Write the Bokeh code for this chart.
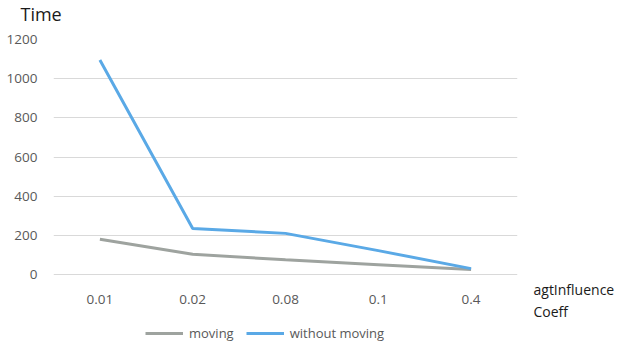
from bokeh.plotting import figure
from bokeh.models import FactorRange, Range1d, Label, Legend, LegendItem, FixedTicker
from bokeh.embed import file_html
from bokeh.resources import INLINE

coeffs = ["0.01", "0.02", "0.08", "0.1", "0.4"]
moving = [180, 103, 75, 50, 25]
without_moving = [1095, 235, 210, 122, 30]
y_ticks = [0, 200, 400, 600, 800, 1000, 1200]

FONT = "Open Sans"
TICK_COLOR = "#595959"
TEXT_COLOR = "#1a1a1a"

# value scale: 0..1200 spans 235 px; the plot area runs a further 73 px
# below zero to hold the category labels and the legend
PLOT_H = 235
BELOW_ZERO = 73
Y_MAX = 1200
y_start = -Y_MAX * BELOW_ZERO / PLOT_H

p = figure(
    frame_width=464, frame_height=PLOT_H + BELOW_ZERO,
    x_range=FactorRange(*coeffs, range_padding=0),
    y_range=Range1d(y_start, Y_MAX),
    output_backend="svg", toolbar_location=None,
    min_border_left=53, min_border_right=112, min_border_top=39, min_border_bottom=0,
)
p.title.text = ""
p.outline_line_color = None
p.background_fill_color = "white"
p.border_fill_color = "white"

# gridlines
p.xgrid.grid_line_color = None
p.ygrid.grid_line_color = "#d9d9d9"
p.ygrid.grid_line_width = 1

# axes
p.yaxis.ticker = FixedTicker(ticks=y_ticks)
p.xaxis.fixed_location = 0
for ax in (p.xaxis[0], p.yaxis[0]):
    ax.axis_line_color = None
    ax.major_tick_line_color = None
    ax.minor_tick_line_color = None
    ax.major_label_text_font = FONT
    ax.major_label_text_font_size = "13.5px"
    ax.major_label_text_color = TICK_COLOR
p.xaxis.major_label_standoff = 14
p.yaxis.major_label_standoff = 10

r_mov = p.line(coeffs, moving, line_color="#9ea39f", line_width=3)
r_wo = p.line(coeffs, without_moving, line_color="#5aa9e6", line_width=3)

# value-axis name, top-left above the plot area
p.add_layout(Label(x=-33, y=26, x_units="screen", y_units="screen",
                   text="Time", text_font=FONT, text_font_size="18px",
                   text_baseline="alphabetic", text_color=TEXT_COLOR), "above")

# category-axis name, right of the last category
p.add_layout(Label(x=16, y=68, x_units="screen", y_units="screen",
                   text="agtInfluence\nCoeff", text_font=FONT,
                   text_font_size="14px", text_line_height=1.2,
                   text_baseline="top", text_color=TEXT_COLOR), "right")

legend = Legend(items=[LegendItem(label="moving", renderers=[r_mov]),
                       LegendItem(label="without moving", renderers=[r_wo])],
                orientation="horizontal", location=(92, 4),
                label_text_font=FONT, label_text_font_size="13px",
                label_text_color=TICK_COLOR, border_line_color=None,
                background_fill_alpha=0,
                glyph_width=38, spacing=12, padding=0, margin=0,
                label_standoff=6)
p.add_layout(legend, "center")

open("out.html", "w").write(file_html(p, INLINE))
